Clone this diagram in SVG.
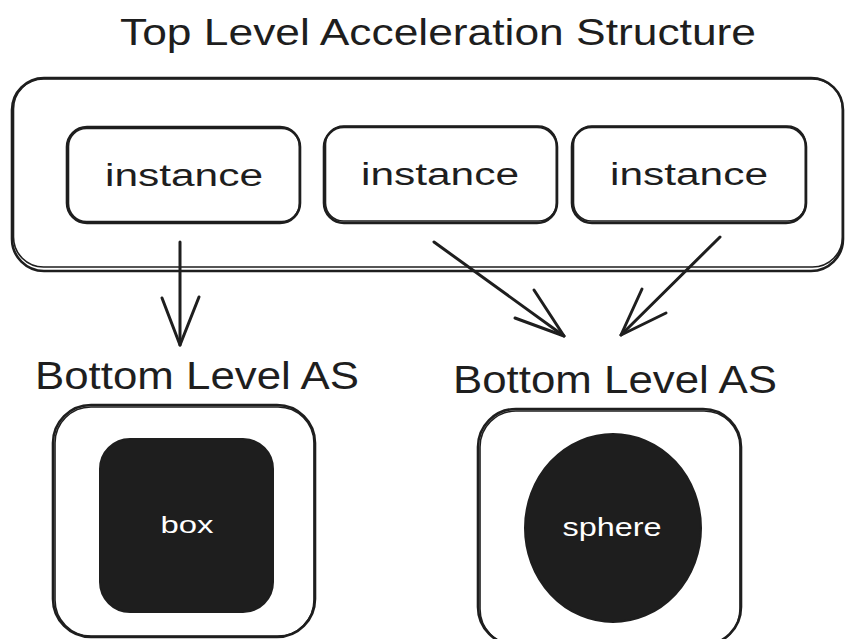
<svg xmlns="http://www.w3.org/2000/svg" width="846" height="639" viewBox="0 0 846 639">
<style>
.sk{fill:none;stroke:#1e1e1e;stroke-width:2.6;stroke-linecap:round;stroke-linejoin:round}
.sk2{fill:none;stroke:#1e1e1e;stroke-width:1.6;stroke-linecap:round;stroke-linejoin:round}
.fillk{fill:#1e1e1e;stroke:#1e1e1e;stroke-width:2}
.lbl{font-family:"Liberation Sans","DejaVu Sans",sans-serif;fill:#1e1e1e}
.wlbl{font-family:"Liberation Sans","DejaVu Sans",sans-serif;fill:#ffffff}
.ar{fill:none;stroke:#1e1e1e;stroke-width:3;stroke-linecap:round;stroke-linejoin:round}
</style>
<rect width="846" height="639" fill="#ffffff"/>

<g id="title">
<text class="lbl" x="438" y="45" font-size="36" text-anchor="middle" textLength="636" lengthAdjust="spacingAndGlyphs">Top Level Acceleration Structure</text>
</g>

<g id="tlas">
<rect class="sk" x="12" y="78" width="831" height="193" rx="32"/>
<rect class="sk2" x="13.5" y="79" width="829" height="188" rx="30"/>
</g>

<g id="instance1">
<rect class="sk" x="67" y="127" width="233" height="96" rx="20"/>
<rect class="sk2" x="68.5" y="128.5" width="231" height="93" rx="18"/>
<text class="lbl" x="184" y="186" font-size="31" text-anchor="middle" textLength="158" lengthAdjust="spacingAndGlyphs">instance</text>
</g>

<g id="instance2">
<rect class="sk" x="324" y="127" width="233" height="96" rx="20"/>
<rect class="sk2" x="325.5" y="126" width="231" height="95" rx="18"/>
<text class="lbl" x="440" y="185" font-size="31" text-anchor="middle" textLength="158" lengthAdjust="spacingAndGlyphs">instance</text>
</g>

<g id="instance3">
<rect class="sk" x="572" y="127" width="234" height="96" rx="20"/>
<rect class="sk2" x="573.5" y="126" width="232" height="95" rx="18"/>
<text class="lbl" x="689" y="185" font-size="31" text-anchor="middle" textLength="158" lengthAdjust="spacingAndGlyphs">instance</text>
</g>

<g id="blas1">
<text class="lbl" x="197" y="389" font-size="38" text-anchor="middle" textLength="324" lengthAdjust="spacingAndGlyphs">Bottom Level AS</text>
<rect class="sk" x="53" y="405" width="262" height="232" rx="38"/>
<rect class="sk2" x="55" y="407" width="259" height="229" rx="36"/>
<rect class="fillk" x="100" y="439" width="173" height="173" rx="30"/>
<text class="wlbl" x="187" y="533" font-size="24" text-anchor="middle" textLength="53" lengthAdjust="spacingAndGlyphs">box</text>
</g>

<g id="blas2">
<text class="lbl" x="615" y="393" font-size="38" text-anchor="middle" textLength="324" lengthAdjust="spacingAndGlyphs">Bottom Level AS</text>
<rect class="sk" x="478" y="409" width="263" height="236" rx="38"/>
<rect class="sk2" x="480" y="411" width="260" height="234" rx="36"/>
<ellipse class="fillk" cx="613" cy="528" rx="88" ry="94"/>
<text class="wlbl" x="612" y="536" font-size="26" text-anchor="middle" textLength="99" lengthAdjust="spacingAndGlyphs">sphere</text>
</g>

<g id="connectors">
<path class="ar" d="M180 242 L180 345"/>
<path class="ar" d="M162 298 L180 345 L199 297"/>
<path class="ar" d="M434 242 L564 336"/>
<path class="ar" d="M534 290 L564 336 L515 318"/>
<path class="ar" d="M720 237 L621 335"/>
<path class="ar" d="M642 289 L621 335 L666 313"/>
</g>
</svg>
